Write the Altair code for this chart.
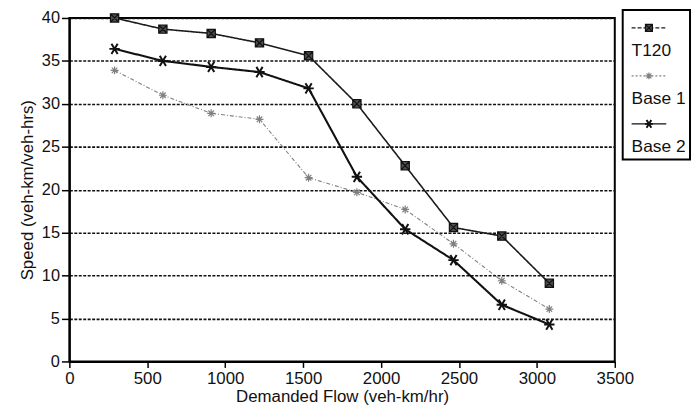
import altair as alt
import pandas as pd

# ---- data ----
flow = [290, 600, 910, 1220, 1535, 1845, 2155, 2465, 2775, 3080]
t120 = [40.0, 38.7, 38.2, 37.1, 35.6, 30.0, 22.8, 15.6, 14.6, 9.1]
base1 = [33.9, 31.0, 28.9, 28.2, 21.4, 19.7, 17.7, 13.7, 9.4, 6.1]
base2 = [36.4, 35.0, 34.3, 33.7, 31.8, 21.5, 15.4, 11.8, 6.6, 4.3]
series_names = ["T120", "Base 1", "Base 2"]
x_ticks = [0, 500, 1000, 1500, 2000, 2500, 3000, 3500]
y_ticks = [0, 5, 10, 15, 20, 25, 30, 35, 40]

rows = []
for name, vals in zip(series_names, [t120, base1, base2]):
    for f, v in zip(flow, vals):
        rows.append({"flow": f, "speed": v, "series": name})
df = pd.DataFrame(rows)
legend_df = pd.DataFrame({"series": series_names})

FONT = "Liberation Sans"

# per-series styling
style = {
    "T120": dict(shape="M-1,-1L1,-1L1,1L-1,1Z M-1,-1L1,1 M1,-1L-1,1",
                 color="#1a1a1a", lw=1.6, dash=[1, 0], ldash=[4, 2],
                 mstroke="#111111", mfill="#4d4d4d", msize=70, mw=1.2, lsize=49),
    "Base 1": dict(shape="M-1,0L1,0 M0,-1L0,1 M-0.7,-0.7L0.7,0.7 M-0.7,0.7L0.7,-0.7",
                   color="#808080", lw=1.1, dash=[4, 2, 1, 2], ldash=[2, 2],
                   mstroke="#808080", mfill="transparent", msize=64, mw=1.2, lsize=49),
    "Base 2": dict(shape="M-1,0L1,0 M-0.6,-1L0.6,1 M-0.6,1L0.6,-1",
                   color="#111111", lw=2.1, dash=[1, 0], ldash=[1, 0],
                   mstroke="#111111", mfill="transparent", msize=110, mw=2.0, lsize=64),
}

xenc = alt.X("flow:Q", scale=alt.Scale(domain=[0, 3500], nice=False),
             axis=alt.Axis(title="Demanded Flow (veh-km/hr)", values=x_ticks, format="d",
                           tickSize=6, labelPadding=3, titlePadding=2, grid=False,
                           labelFlush=False))
yenc = alt.Y("speed:Q", scale=alt.Scale(domain=[0, 40], nice=False),
             axis=alt.Axis(title="Speed (veh-km/veh-hrs)", values=y_ticks,
                           tickSize=8, labelPadding=2, titlePadding=5, grid=True,
                           gridColor="#111", gridDash=[3, 1.5], gridWidth=1.6,
                           labelFlush=False, labelFontSize=16.5))

main_layers = []
for name in series_names:
    s = style[name]
    main_layers.append(
        alt.Chart(df).transform_filter(alt.datum.series == name)
        .mark_line(color=s["color"], strokeWidth=s["lw"], strokeDash=s["dash"])
        .encode(x=xenc, y=yenc))
for name in series_names:
    s = style[name]
    main_layers.append(
        alt.Chart(df).transform_filter(alt.datum.series == name)
        .mark_point(shape=s["shape"], filled=False, fill=s["mfill"], stroke=s["mstroke"],
                    strokeWidth=s["mw"], size=s["msize"], opacity=1)
        .encode(x=xenc, y=yenc))
main = alt.layer(*main_layers)

# ---- hand-built legend to the right of the plot (line sample above each label) ----
ly = alt.Y("series:N", scale=alt.Scale(type="point", domain=series_names,
                                       range=[10, 107], padding=0), axis=None)
leg_layers = [
    alt.Chart(pd.DataFrame({"k": [0]})).mark_rect(fill="white", stroke="black", strokeWidth=2)
    .encode(x=alt.value(559), x2=alt.value(627), y=alt.value(-8), y2=alt.value(143))
]
for name in series_names:
    s = style[name]
    base = alt.Chart(legend_df).transform_filter(alt.datum.series == name)
    leg_layers.append(base.mark_rule(color=s["color"], strokeWidth=1.3, strokeDash=s["ldash"])
                      .encode(x=alt.value(568), x2=alt.value(603), y=ly))
    leg_layers.append(base.mark_point(shape=s["shape"], filled=False, fill=s["mfill"],
                                      stroke=s["mstroke"], strokeWidth=s["mw"],
                                      size=s["lsize"], opacity=1)
                      .encode(x=alt.value(585.5), y=ly))
leg_layers.append(
    alt.Chart(legend_df).mark_text(align="left", baseline="middle", dy=23, font=FONT,
                                   fontSize=17.5, color="#111")
    .encode(x=alt.value(568), y=ly, text="series:N"))
legend = alt.layer(*leg_layers)

chart = alt.layer(main, legend).resolve_scale(y="independent").properties(
    width=551, height=347,
    autosize=alt.AutoSizeParams(type="none"),
    padding={"left": 62, "top": 8, "right": 78, "bottom": 49},
).configure_view(stroke="black", strokeWidth=2).configure_axis(
    domainColor="black", domainWidth=2, tickColor="black", tickWidth=1.5,
    labelFont=FONT, labelFontSize=17, labelColor="#111",
    titleFont=FONT, titleFontSize=17, titleFontWeight="normal", titleColor="#111",
)

chart.save("out.html", embed_options={"renderer": "svg", "actions": False})
